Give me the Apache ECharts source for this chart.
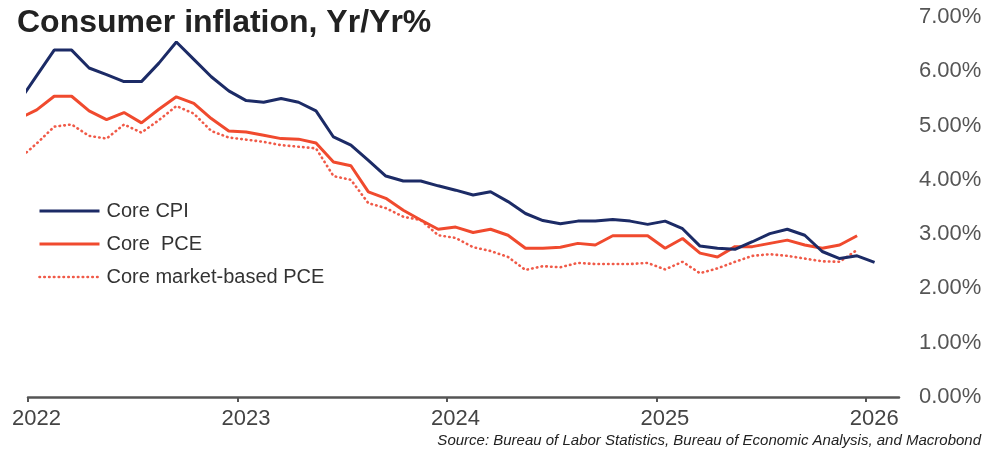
<!DOCTYPE html>
<html>
<head>
<meta charset="utf-8">
<script src="https://cdn.jsdelivr.net/npm/echarts@6/dist/echarts.min.js"></script>
<style>
html,body{margin:0;padding:0;background:#fff;}
#chart{width:986px;height:454px;}
</style>
</head>
<body>
<div id="chart"></div>
<script>
// Monthly observations (plotted mid-month); Dec 2021 lies just left of the axis and is clipped
const months = [
  '2021-12',
  '2022-01','2022-02','2022-03','2022-04','2022-05','2022-06','2022-07','2022-08','2022-09','2022-10','2022-11','2022-12',
  '2023-01','2023-02','2023-03','2023-04','2023-05','2023-06','2023-07','2023-08','2023-09','2023-10','2023-11','2023-12',
  '2024-01','2024-02','2024-03','2024-04','2024-05','2024-06','2024-07','2024-08','2024-09','2024-10','2024-11','2024-12',
  '2025-01','2025-02','2025-03','2025-04','2025-05','2025-06','2025-07','2025-08','2025-09','2025-10','2025-11','2025-12',
  '2026-01'
];
const coreCPI = [
  5.45,
  5.92,6.39,6.39,6.06,5.94,5.81,5.81,6.15,6.54,6.22,5.90,5.64,
  5.46,5.43,5.50,5.43,5.27,4.79,4.64,4.36,4.07,3.98,3.98,3.89,
  3.81,3.72,3.78,3.60,3.38,3.25,3.19,3.24,3.24,3.27,3.24,3.18,
  3.24,3.10,2.78,2.74,2.72,2.86,3.01,3.09,2.98,2.68,2.55,2.60,
  2.48
];
const corePCE = [
  5.13,
  5.29,5.54,5.54,5.27,5.11,5.24,5.05,5.30,5.53,5.41,5.13,4.90,
  4.88,4.82,4.76,4.75,4.68,4.33,4.26,3.78,3.66,3.44,3.26,3.09,
  3.13,3.03,3.09,2.98,2.74,2.74,2.76,2.83,2.80,2.97,2.97,2.97,
  2.74,2.92,2.65,2.58,2.77,2.77,2.83,2.89,2.80,2.74,2.80,2.97,
  null
];
const marketPCE = [
  4.39,
  4.67,4.98,5.02,4.81,4.76,5.02,4.87,5.10,5.36,5.22,4.90,4.78,
  4.74,4.70,4.64,4.61,4.58,4.07,4.00,3.57,3.48,3.32,3.26,2.98,
  2.93,2.76,2.69,2.58,2.34,2.41,2.39,2.47,2.45,2.45,2.45,2.47,
  2.35,2.49,2.28,2.37,2.49,2.60,2.63,2.60,2.55,2.50,2.49,2.71,
  null
];
const seriesNames = ['Core CPI', 'Core  PCE', 'Core market-based PCE'];
const yearTicks = [2022, 2023, 2024, 2025, 2026];

const BASE_YEAR = yearTicks[0];
function monthIndex(s) {            // months since Jan 1 of base year, mid-month
  const [y, m] = s.split('-').map(Number);
  return (y - BASE_YEAR) * 12 + (m - 1) + 0.5;
}
function pairs(vals) {
  return months.map((m, i) => [monthIndex(m), vals[i]]).filter(p => p[1] != null);
}
const yearPos = yearTicks.map(y => (y - BASE_YEAR) * 12);

const FONT = 'Liberation Sans, Arial, sans-serif';
const NAVY = '#1c2b66', RED = '#f04a2e', DOT = '#f05a48';
const chart = echarts.init(document.getElementById('chart'), null, {renderer: 'canvas'});
chart.setOption({
  animation: false,
  backgroundColor: '#ffffff',
  title: [{
    text: 'Consumer inflation, Yr/Yr%',
    left: 12, top: 2,
    textStyle: {fontFamily: FONT, fontSize: 32, fontWeight: 'bold', color: '#222222'}
  }, {
    text: 'Source: Bureau of Labor Statistics, Bureau of Economic Analysis, and Macrobond',
    right: 0, bottom: 1,
    textStyle: {fontFamily: FONT, fontSize: 15, fontStyle: 'italic', fontWeight: 'normal', color: '#222222'}
  }],
  legend: {
    orient: 'vertical',
    left: 33, top: 196,
    itemWidth: 60, itemHeight: 14, itemGap: 13,
    data: [
      {name: seriesNames[0], lineStyle: {color: NAVY, width: 3}},
      {name: seriesNames[1], lineStyle: {color: RED, width: 3}},
      {name: seriesNames[2], lineStyle: {color: DOT, width: 2.6, type: [0.5, 4.3], cap: 'round'}}
    ],
    itemStyle: {opacity: 0},
    textStyle: {fontFamily: FONT, fontSize: 20, color: '#333333', lineHeight: 20, padding: [0, 0, 0, 2]}
  },
  grid: {left: 28, right: 87, top: 17, bottom: 57, containLabel: false},
  xAxis: {
    type: 'value',
    min: 0, max: 49.9,
    interval: 12,
    axisLine: {show: true, lineStyle: {color: '#555555', width: 2.5}},
    axisTick: {show: true, customValues: yearPos, length: 5, lineStyle: {color: '#555555', width: 2}},
    axisLabel: {
      customValues: yearPos,
      formatter: v => String(BASE_YEAR + Math.round(v / 12)),
      fontFamily: FONT, fontSize: 22, color: '#444444',
      margin: 11, padding: [0, 0, 0, 17]
    },
    splitLine: {show: false}
  },
  yAxis: {
    type: 'value',
    position: 'right',
    min: 0, max: 7, interval: 1,
    axisLine: {show: false}, axisTick: {show: false}, splitLine: {show: false},
    axisLabel: {
      formatter: v => v.toFixed(2) + '%',
      fontFamily: FONT, fontSize: 22, color: '#555555',
      margin: 20, align: 'left'
    }
  },
  series: [{
    name: seriesNames[0], type: 'line', data: pairs(coreCPI), symbol: 'none', clip: true,
    lineStyle: {color: NAVY, width: 3}, itemStyle: {color: NAVY}, z: 3
  }, {
    name: seriesNames[1], type: 'line', data: pairs(corePCE), symbol: 'none', clip: true,
    lineStyle: {color: RED, width: 3}, itemStyle: {color: RED}, z: 2
  }, {
    name: seriesNames[2], type: 'line', data: pairs(marketPCE), symbol: 'none', clip: true,
    lineStyle: {color: DOT, width: 2.6, type: [0.5, 4.3], cap: 'round'}, itemStyle: {color: DOT}, z: 1
  }]
});
</script>
</body>
</html>
